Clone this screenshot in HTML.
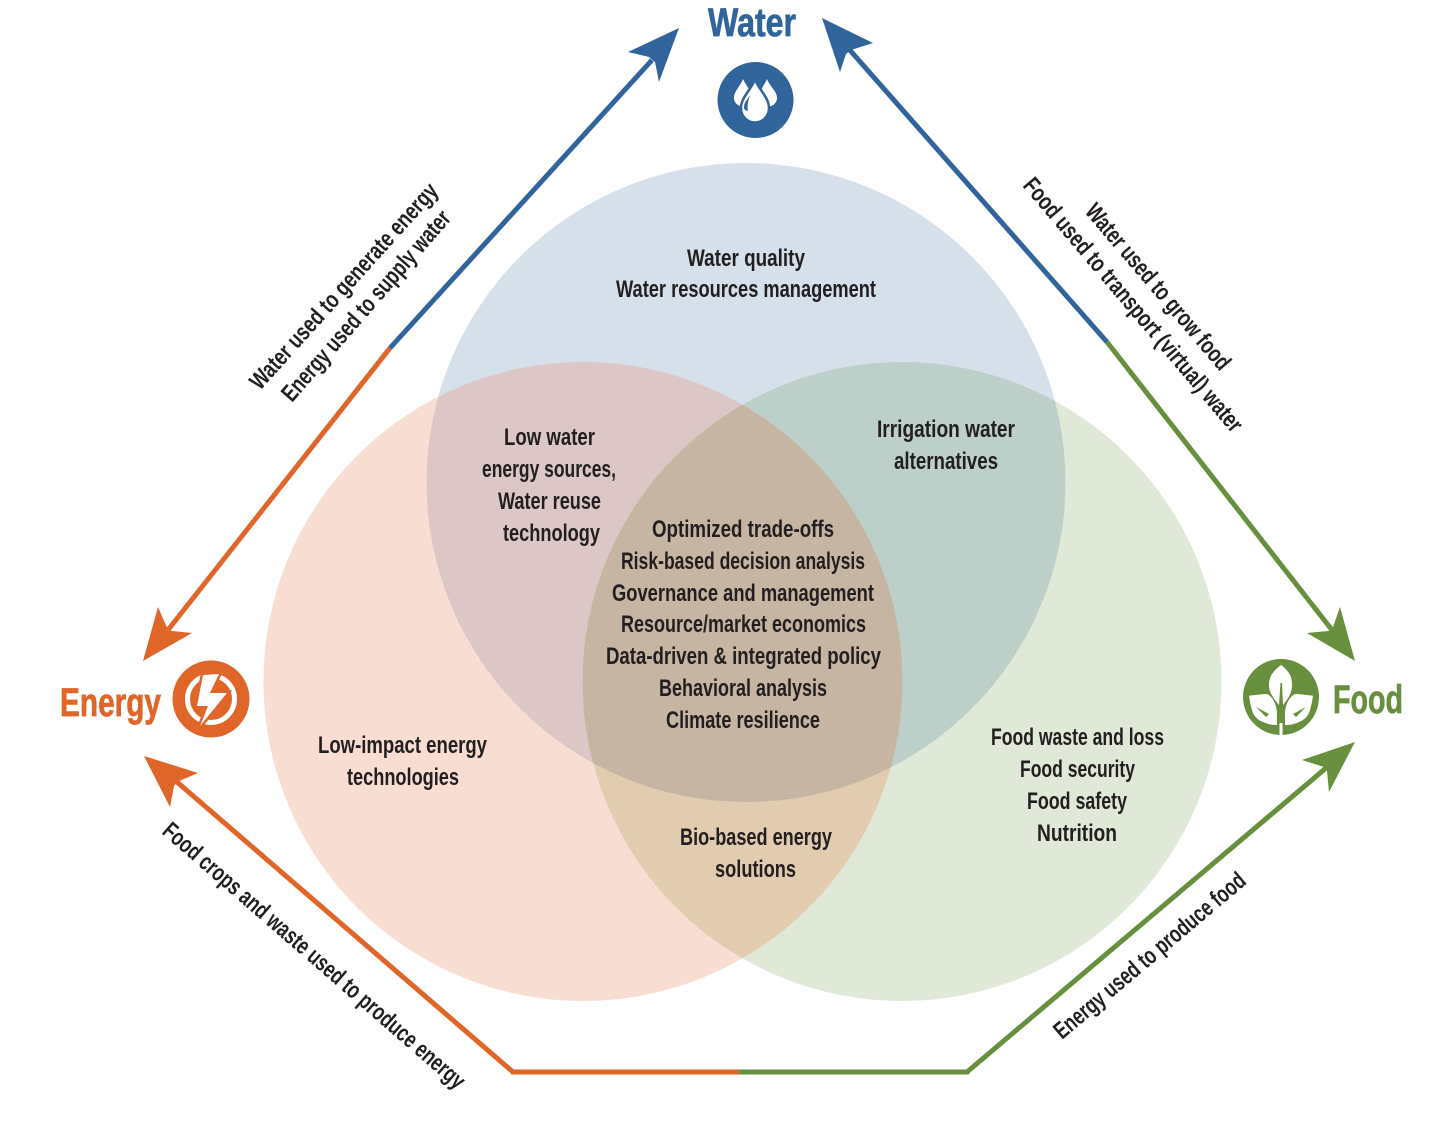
<!DOCTYPE html>
<html>
<head>
<meta charset="utf-8">
<style>
html,body{margin:0;padding:0;background:#fff;}
svg{display:block;}
.t{font-family:"Liberation Sans",sans-serif;font-size:24px;font-weight:700;fill:#231f20;}
.l{font-family:"Liberation Sans",sans-serif;font-size:24px;font-weight:700;fill:#231f20;}
.h{font-family:"Liberation Sans",sans-serif;font-size:40px;font-weight:700;stroke-width:.7;}
</style>
</head>
<body>
<svg width="1429" height="1146" viewBox="0 0 1429 1146" xmlns="http://www.w3.org/2000/svg">
<defs>
<clipPath id="cw"><circle cx="746" cy="482.5" r="319.5"/></clipPath>
<clipPath id="ce"><circle cx="583" cy="681.5" r="319.5"/></clipPath>
<clipPath id="cf"><circle cx="902" cy="681.5" r="319.5"/></clipPath>
<clipPath id="cwe" clip-path="url(#cw)"><circle cx="583" cy="681.5" r="319.5"/></clipPath>
</defs>
<rect width="1429" height="1146" fill="#fff"/>

<!-- Venn -->
<circle cx="746" cy="482.5" r="319.5" fill="#d5e0ea"/>
<circle cx="583" cy="681.5" r="319.5" fill="#f7ddd2"/>
<circle cx="902" cy="681.5" r="319.5" fill="#e0e8d8"/>
<circle cx="583" cy="681.5" r="319.5" fill="#dcc7c6" clip-path="url(#cw)"/>
<circle cx="902" cy="681.5" r="319.5" fill="#bccfc9" clip-path="url(#cw)"/>
<circle cx="902" cy="681.5" r="319.5" fill="#e1ccb0" clip-path="url(#ce)"/>
<circle cx="902" cy="681.5" r="319.5" fill="#c6b5a2" clip-path="url(#cwe)"/>

<!-- Connector lines -->
<g fill="none" stroke-width="5">
<path d="M390 348L652 60" stroke="#31649b"/>
<path d="M1107 342L848 48" stroke="#31649b"/>
<path d="M390 348L168 630" stroke="#e06528"/>
<path d="M1107 342L1332 630" stroke="#688f3e"/>
<path d="M513 1072L177 782" stroke="#e06528"/>
<path d="M967 1072L1326 768" stroke="#688f3e"/>
<path d="M511 1072H739" stroke="#e06528"/>
<path d="M739 1072H969" stroke="#688f3e"/>
</g>

<!-- Arrowheads -->
<polygon points="679,28 628,52 649,57 655,62 659,82" fill="#31649b"/>
<polygon points="822,18 873,43 851,50 846,54 840,72" fill="#31649b"/>
<polygon points="143,661 158,607 168,630 172,631 192,633" fill="#e06528"/>
<polygon points="144,756 198,773 177,782 174,786 170,807" fill="#e06528"/>
<polygon points="1355,661 1340,607 1332,630 1328,631 1307,633" fill="#688f3e"/>
<polygon points="1355,742 1302,760 1324,767 1327,771 1329,792" fill="#688f3e"/>

<!-- Titles -->
<text class="h" x="708" y="36" fill="#31649b" stroke="#31649b" textLength="88" lengthAdjust="spacingAndGlyphs">Water</text>
<text class="h" x="60" y="716" fill="#e06528" stroke="#e06528" textLength="101" lengthAdjust="spacingAndGlyphs">Energy</text>
<text class="h" x="1333" y="713" fill="#688f3e" stroke="#688f3e" textLength="70" lengthAdjust="spacingAndGlyphs">Food</text>

<!-- Water icon -->
<circle cx="755.5" cy="100" r="38" fill="#31649b"/>
<path d="M743 79C740 87 734 91 734 98C734 103 738 106 743 107C748 106 752 102 752 97C752 91 746 86 743 79Z" fill="#fff"/>
<path d="M767 79C770 87 777 91 777 98C777 103 773 106 768 107C763 106 759 102 759 97C759 91 764 86 767 79Z" fill="#fff"/>
<path d="M755 79C752 89 741 97 741 108C741 116 747 122.500 755 122.500C763 122.500 769 116 769 108C769 97 758 89 755 79Z" fill="#fff" stroke="#31649b" stroke-width="2.500"/>
<path d="M750 95C747 100 744 103 744 107C744 110 746 111 748 110.500C747 106 748 101 750 95Z" fill="#31649b"/>

<!-- Energy icon -->
<circle cx="211" cy="699" r="38.500" fill="#e06528"/>
<circle cx="211" cy="699" r="23.500" fill="none" stroke="#fff" stroke-width="5"/>
<polygon points="203,675 219,674 210,693 227,693 200,726 208,706 197,706" fill="#fff" stroke="#e06528" stroke-width="5" stroke-linejoin="miter"/>
<polygon points="203,675 219,674 210,693 227,693 200,726 208,706 197,706" fill="#fff"/>

<!-- Food icon -->
<circle cx="1281" cy="697" r="38" fill="#688f3e"/>
<path d="M1281 665C1272 672 1269 677 1269 685C1269 693 1274 699 1279 705L1280.500 683H1282L1283 705C1288 699 1292 693 1292 685C1292 677 1290 672 1281 665Z" fill="#fff"/>
<path d="M1249 695.700C1256 695 1262 694 1267 694C1273 697 1277 705 1277 715L1277 725C1272 725 1267 724 1263 722C1258 720 1255 717 1253 713C1251 708 1250 702 1249 695.700Z" fill="#fff"/>
<path d="M1313 695.700C1306 695 1300 694 1295 694C1289 697 1285 705 1285 715L1285 725C1290 725 1295 724 1299 722C1304 720 1307 717 1309 713C1311 708 1312 702 1313 695.700Z" fill="#fff"/>
<polygon points="1256,707 1269,714 1266,717" fill="#688f3e"/>
<polygon points="1306,707 1293,714 1296,717" fill="#688f3e"/>
<path d="M1279.500 723H1282.500V735H1279.500Z" fill="#fff"/>

<!-- Venn labels -->
<text class="t" x="687" y="266" textLength="118" lengthAdjust="spacingAndGlyphs">Water quality</text>
<text class="t" x="616" y="297" textLength="260" lengthAdjust="spacingAndGlyphs">Water resources management</text>

<text class="t" x="504" y="445" textLength="91" lengthAdjust="spacingAndGlyphs">Low water</text>
<text class="t" x="482" y="477" textLength="134" lengthAdjust="spacingAndGlyphs">energy sources,</text>
<text class="t" x="498" y="509" textLength="103" lengthAdjust="spacingAndGlyphs">Water reuse</text>
<text class="t" x="503" y="541" textLength="97" lengthAdjust="spacingAndGlyphs">technology</text>

<text class="t" x="877" y="437" textLength="138" lengthAdjust="spacingAndGlyphs">Irrigation water</text>
<text class="t" x="894" y="469" textLength="104" lengthAdjust="spacingAndGlyphs">alternatives</text>

<text class="t" x="652" y="537" textLength="182" lengthAdjust="spacingAndGlyphs">Optimized trade-offs</text>
<text class="t" x="621" y="569" textLength="244" lengthAdjust="spacingAndGlyphs">Risk-based decision analysis</text>
<text class="t" x="612" y="601" textLength="262" lengthAdjust="spacingAndGlyphs">Governance and management</text>
<text class="t" x="621" y="632" textLength="245" lengthAdjust="spacingAndGlyphs">Resource/market economics</text>
<text class="t" x="606" y="664" textLength="275" lengthAdjust="spacingAndGlyphs">Data-driven &amp; integrated policy</text>
<text class="t" x="659" y="696" textLength="168" lengthAdjust="spacingAndGlyphs">Behavioral analysis</text>
<text class="t" x="666" y="728" textLength="154" lengthAdjust="spacingAndGlyphs">Climate resilience</text>

<text class="t" x="318" y="753" textLength="169" lengthAdjust="spacingAndGlyphs">Low-impact energy</text>
<text class="t" x="347" y="785" textLength="112" lengthAdjust="spacingAndGlyphs">technologies</text>

<text class="t" x="680" y="845" textLength="152" lengthAdjust="spacingAndGlyphs">Bio-based energy</text>
<text class="t" x="715" y="877" textLength="81" lengthAdjust="spacingAndGlyphs">solutions</text>

<text class="t" x="991" y="745" textLength="173" lengthAdjust="spacingAndGlyphs">Food waste and loss</text>
<text class="t" x="1020" y="777" textLength="115" lengthAdjust="spacingAndGlyphs">Food security</text>
<text class="t" x="1027" y="809" textLength="100" lengthAdjust="spacingAndGlyphs">Food safety</text>
<text class="t" x="1037" y="841" textLength="80" lengthAdjust="spacingAndGlyphs">Nutrition</text>

<!-- Connector labels -->
<text class="l" transform="translate(260 391) rotate(-48)" textLength="268" lengthAdjust="spacingAndGlyphs">Water used to generate energy</text>
<text class="l" transform="translate(292 403) rotate(-49)" textLength="244" lengthAdjust="spacingAndGlyphs">Energy used to supply water</text>
<text class="l" transform="translate(1084 212) rotate(49.600)" textLength="210" lengthAdjust="spacingAndGlyphs">Water used to grow food</text>
<text class="l" transform="translate(1022 186) rotate(49.700)" textLength="325" lengthAdjust="spacingAndGlyphs">Food used to transport (virtual) water</text>
<text class="l" transform="translate(161 833) rotate(41)" textLength="392" lengthAdjust="spacingAndGlyphs">Food crops and waste used to produce energy</text>
<text class="l" transform="translate(1062 1040) rotate(-40.200)" textLength="243" lengthAdjust="spacingAndGlyphs">Energy used to produce food</text>
</svg>
</body>
</html>
